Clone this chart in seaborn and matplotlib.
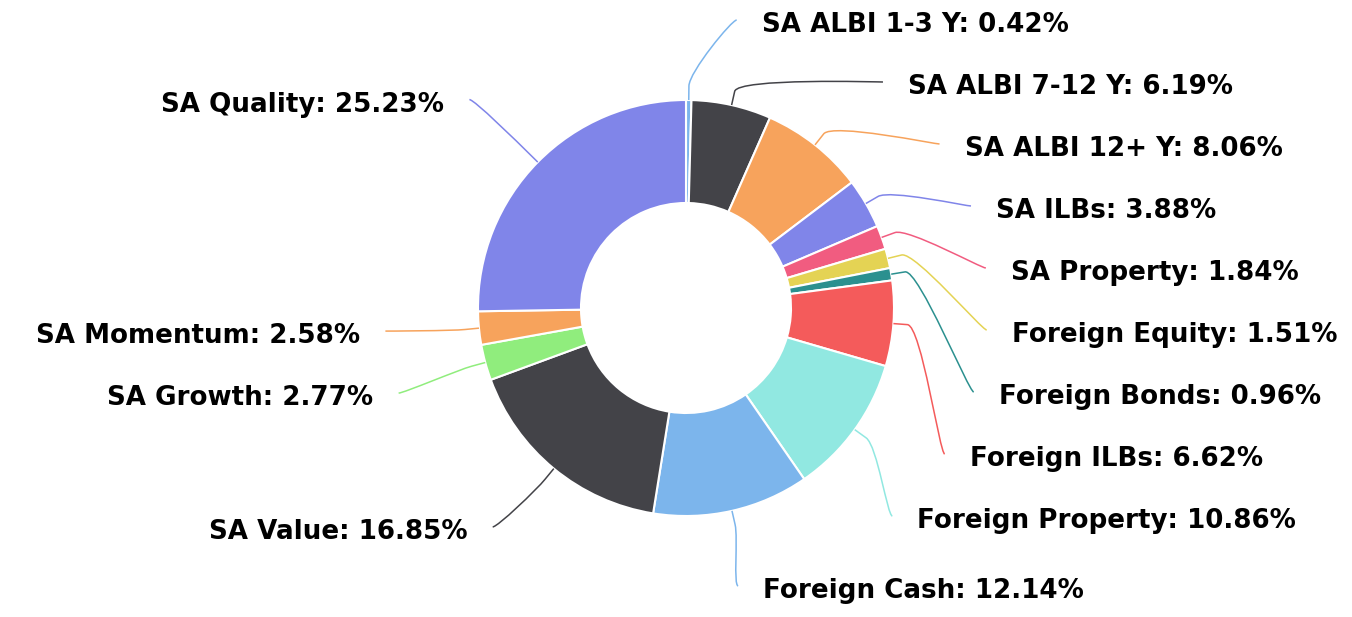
import matplotlib
matplotlib.use("Agg")
import matplotlib.pyplot as plt
import seaborn as sns
import numpy as np
from matplotlib.path import Path
from matplotlib.patches import PathPatch

# Данные диаграммы (по часовой стрелке от 12 часов)
labels = ['SA ALBI 1-3 Y', 'SA ALBI 7-12 Y', 'SA ALBI 12+ Y', 'SA ILBs', 'SA Property',
          'Foreign Equity', 'Foreign Bonds', 'Foreign ILBs', 'Foreign Property',
          'Foreign Cash', 'SA Value', 'SA Growth', 'SA Momentum', 'SA Quality']
values = [0.42, 6.19, 8.06, 3.88, 1.84, 1.51, 0.96, 6.62, 10.86, 12.14, 16.85, 2.77, 2.58, 25.23]
colors = ['#7cb5ec', '#434348', '#f7a35c', '#8085e9', '#f15c80', '#e4d354', '#2b908f',
          '#f45b5b', '#91e8e1', '#7cb5ec', '#434348', '#90ed7d', '#f7a35c', '#8085e9']

sns.set_theme(style="white")
plt.rcParams['font.family'] = ['DejaVu Sans']

W, H = 1352, 617
cx, cy = 686, 308   # центр в пикселях (сверху вниз)
R = 208             # внешний радиус
ring = 103          # ширина кольца

fig = plt.figure(figsize=(W / 100, H / 100), dpi=100)
ax = fig.add_axes([0, 0, 1, 1])

ax.pie(values, colors=colors, startangle=90, counterclock=False, radius=R,
       center=(cx, H - cy), wedgeprops=dict(width=ring, edgecolor='white', linewidth=1.5))
ax.set_xlim(0, W)
ax.set_ylim(0, H)
ax.set_aspect('equal')
ax.axis('off')

# Углы середин секторов (по часовой от верха)
vals = np.array(values)
frac = vals / vals.sum()
theta = 2 * np.pi * (np.cumsum(frac) - frac / 2)


def spread(ys, top, bottom, gap):
    # раздвигаем подписи, чтобы не налезали
    ys = list(ys)
    for i in range(len(ys)):
        lo = top if i == 0 else ys[i - 1] + gap
        ys[i] = max(ys[i], lo)
    for i in range(len(ys) - 1, -1, -1):
        hi = bottom if i == len(ys) - 1 else ys[i + 1] - gap
        ys[i] = min(ys[i], hi)
    return ys


ideal = cy - 290 * np.cos(theta)
label_y = np.zeros(len(values))
for side in (theta < np.pi, theta >= np.pi):
    idx = np.where(side)[0]
    idx = idx[np.argsort(ideal[idx])]
    label_y[idx] = spread(ideal[idx], 25, 598, 62)

for i, lab in enumerate(labels):
    s = 1 if theta[i] < np.pi else -1
    y = label_y[i]
    dy = y - cy
    x = cx + s * (np.sqrt(max(285 ** 2 - dy ** 2, 0)) + 42)
    ax.text(x, H - y, f'{lab}: {values[i]:.2f}%', ha='left' if s > 0 else 'right',
            va='center', fontsize=18.8, fontweight='bold', color='black')

    # соединительная линия
    sx, sy = np.sin(theta[i]), -np.cos(theta[i])
    T = np.array([cx + R * sx, cy + R * sy])
    B = np.array([cx + (R + 14) * sx, cy + (R + 14) * sy])
    E = np.array([x - s * 25, y - 5])
    pts = [E, [E[0] - s * 5, E[1]], 2 * B - T, B, T]
    pts = [(p[0], H - p[1]) for p in pts]
    path = Path(pts, [Path.MOVETO, Path.CURVE4, Path.CURVE4, Path.CURVE4, Path.LINETO])
    ax.add_patch(PathPatch(path, fill=False, edgecolor=colors[i], linewidth=1.1))

fig.savefig('out.png', dpi=100)
